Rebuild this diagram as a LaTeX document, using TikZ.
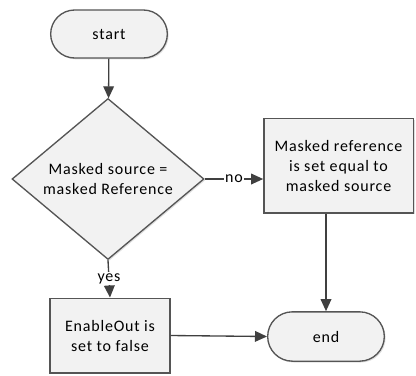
\documentclass[tikz,border=0pt]{standalone}
\usepackage{fontspec}
\setmainfont{Carlito}[LetterSpace=5]
\usepackage{tikz}
\usetikzlibrary{arrows.meta,shapes.misc,shapes.geometric,shadows}

\definecolor{boxfill}{HTML}{F2F2F2}
\definecolor{boxline}{HTML}{555555}
\definecolor{flowline}{HTML}{404040}

\begin{document}
\begin{tikzpicture}[x=0.75pt, y=-0.75pt,
  every node/.style={font=\fontsize{12}{15}\selectfont, align=center},
  block/.style={draw=boxline, fill=boxfill, line width=1pt, inner sep=2pt,
    drop shadow={shadow xshift=1pt, shadow yshift=-1pt, opacity=0.25}},
  terminal/.style={block, rounded rectangle},
  decision/.style={block, diamond, inner sep=0pt},
  flow/.style={draw=flowline, line width=1pt, -{Triangle[length=9pt, width=8pt]}},
  answer/.style={fill=white, inner sep=1pt}]
\useasboundingbox (0,0) rectangle (416,375);

% Start and end
\node[terminal, minimum width=91.5pt, minimum height=36pt] (start) at (109,34) {start};
\node[terminal, minimum width=91.5pt, minimum height=37pt] (end) at (326,336.5) {end};

% Decision
\node[decision, minimum width=144pt, minimum height=93pt] (dec) at (108,179) {Masked source =\\masked Reference};

% Actions
\node[block, minimum width=112pt, minimum height=71pt] (copy) at (338.5,165.5) {Masked reference\\is set equal to\\masked source};
\node[block, minimum width=90pt, minimum height=56pt] (clear) at (110,335.5) {EnableOut is\\set to false};

% Connections
\draw[flow] (start) -- (dec);
\draw[flow] (dec.east) -- (dec.east -| copy.west) node[midway, answer] {no};
\draw[flow] (dec.south) -- (clear.north) node[midway, answer] {yes};
\draw[flow] (end.north |- copy.south) -- (end.north);
\draw[flow] (clear.east) -- (end.west);
\end{tikzpicture}
\end{document}
